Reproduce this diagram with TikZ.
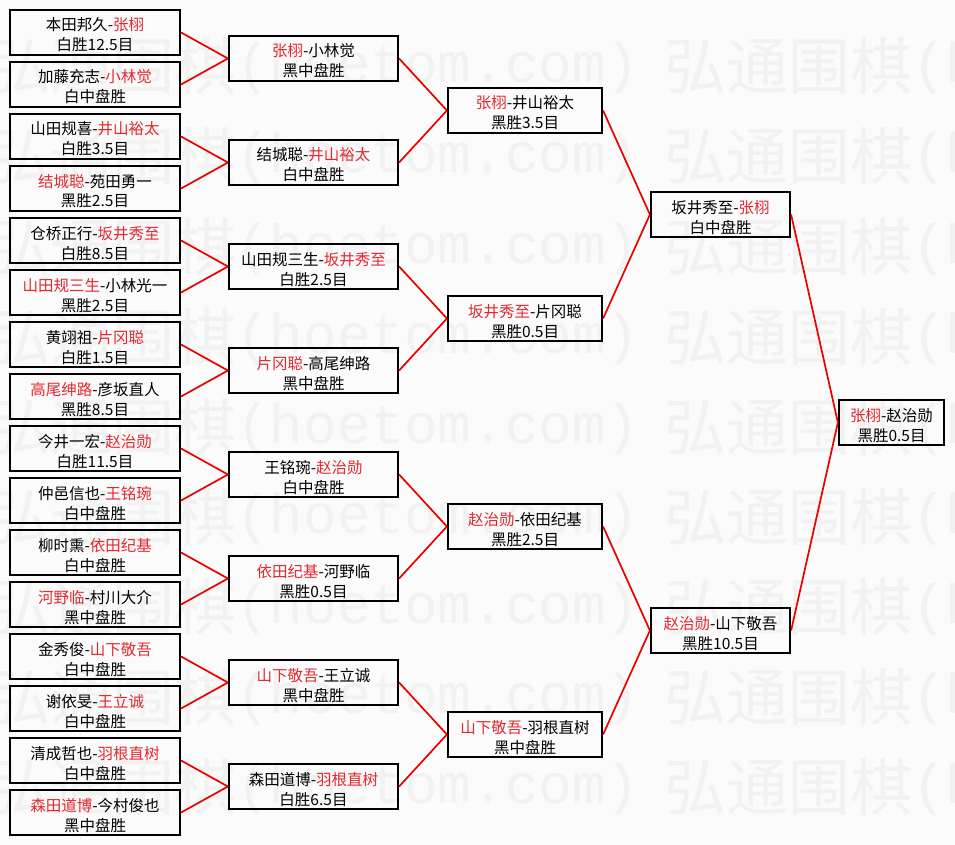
\documentclass[tikz,border=0pt]{standalone}
\usepackage{fontspec}
\setmainfont{Noto Sans CJK SC}
\newfontfamily\wmlatin{Liberation Mono}
\usepackage{xcolor}
\usepackage{tikz}

\definecolor{winred}{RGB}{228,40,48}
\definecolor{linkred}{RGB}{235,0,0}
\definecolor{wmgray}{RGB}{242,242,242}
\definecolor{bggray}{RGB}{251,251,251}
\newcommand{\win}[1]{\textcolor{winred}{#1}}

\begin{document}
\begin{tikzpicture}[
  x=1pt, y=-1pt,
  font=\fontsize{15.5}{20}\selectfont,
  game/.style={draw, line width=2.2pt, minimum height=45pt, inner sep=0pt, align=center,
    text height=37pt, text depth=0pt},
  rda/.style={game, minimum width=170pt},
  rdb/.style={game, minimum width=169pt},
  rdc/.style={game, minimum width=154pt},
  rdd/.style={game, minimum width=139pt},
  rdf/.style={game, minimum width=105pt},
  link/.style={draw=linkred, line width=1.7pt},
  wm/.style={text=wmgray, inner sep=0pt, anchor=base west, font=\fontsize{62}{62}\selectfont},
  wmlat/.style={wm, font=\wmlatin\fontsize{56}{56}\selectfont}
]
  \useasboundingbox (0,0) rectangle (955,845);
  \fill[bggray] (0,0) rectangle (955,845);

  % watermark
  \foreach \r in {0,...,8}{
    \foreach \x in {-12,664}{
      \node[wm] at (\x,90+90*\r) {弘通围棋};
      \node[wmlat] at (\x+248,83+90*\r) {(hoetom.com)};
    }
  }

  % first round
  \node[rda] (a1)  at (95,32.5)  {本田邦久-\win{张栩}\\白胜12.5目};
  \node[rda] (a2)  at (95,84.5)  {加藤充志-\win{小林觉}\\白中盘胜};
  \node[rda] (a3)  at (95,136.5) {山田规喜-\win{井山裕太}\\白胜3.5目};
  \node[rda] (a4)  at (95,188.5) {\win{结城聪}-苑田勇一\\黑胜2.5目};
  \node[rda] (a5)  at (95,240.5) {仓桥正行-\win{坂井秀至}\\白胜8.5目};
  \node[rda] (a6)  at (95,292.5) {\win{山田规三生}-小林光一\\黑胜2.5目};
  \node[rda] (a7)  at (95,344.5) {黄翊祖-\win{片冈聪}\\白胜1.5目};
  \node[rda] (a8)  at (95,396.5) {\win{高尾绅路}-彦坂直人\\黑胜8.5目};
  \node[rda] (a9)  at (95,448.5) {今井一宏-\win{赵治勋}\\白胜11.5目};
  \node[rda] (a10) at (95,500.5) {仲邑信也-\win{王铭琬}\\白中盘胜};
  \node[rda] (a11) at (95,552.5) {柳时熏-\win{依田纪基}\\白中盘胜};
  \node[rda] (a12) at (95,604.5) {\win{河野临}-村川大介\\黑中盘胜};
  \node[rda] (a13) at (95,656.5) {金秀俊-\win{山下敬吾}\\白中盘胜};
  \node[rda] (a14) at (95,708.5) {谢依旻-\win{王立诚}\\白中盘胜};
  \node[rda] (a15) at (95,760.5) {清成哲也-\win{羽根直树}\\白中盘胜};
  \node[rda] (a16) at (95,812.5) {\win{森田道博}-今村俊也\\黑中盘胜};

  % second round
  \node[rdb] (b1) at (313.5,58.5)  {\win{张栩}-小林觉\\黑中盘胜};
  \node[rdb] (b2) at (313.5,162.5) {结城聪-\win{井山裕太}\\白中盘胜};
  \node[rdb] (b3) at (313.5,266.5) {山田规三生-\win{坂井秀至}\\白胜2.5目};
  \node[rdb] (b4) at (313.5,370.5) {\win{片冈聪}-高尾绅路\\黑中盘胜};
  \node[rdb] (b5) at (313.5,474.5) {王铭琬-\win{赵治勋}\\白中盘胜};
  \node[rdb] (b6) at (313.5,578.5) {\win{依田纪基}-河野临\\黑胜0.5目};
  \node[rdb] (b7) at (313.5,682.5) {\win{山下敬吾}-王立诚\\黑中盘胜};
  \node[rdb] (b8) at (313.5,786.5) {森田道博-\win{羽根直树}\\白胜6.5目};

  % third round
  \node[rdc] (c1) at (525,110.5) {\win{张栩}-井山裕太\\黑胜3.5目};
  \node[rdc] (c2) at (525,318.5) {\win{坂井秀至}-片冈聪\\黑胜0.5目};
  \node[rdc] (c3) at (525,526.5) {\win{赵治勋}-依田纪基\\黑胜2.5目};
  \node[rdc] (c4) at (525,734.5) {\win{山下敬吾}-羽根直树\\黑中盘胜};

  % semifinal and final
  \node[rdd] (d1) at (720.5,214.5) {坂井秀至-\win{张栩}\\白中盘胜};
  \node[rdd] (d2) at (720.5,630.5) {\win{赵治勋}-山下敬吾\\黑胜10.5目};
  \node[rdf] (fin) at (891.5,422.5) {\win{张栩}-赵治勋\\黑胜0.5目};

  \draw[link] (a1.east) -- (b1.west);
  \draw[link] (a2.east) -- (b1.west);
  \draw[link] (a3.east) -- (b2.west);
  \draw[link] (a4.east) -- (b2.west);
  \draw[link] (a5.east) -- (b3.west);
  \draw[link] (a6.east) -- (b3.west);
  \draw[link] (a7.east) -- (b4.west);
  \draw[link] (a8.east) -- (b4.west);
  \draw[link] (a9.east) -- (b5.west);
  \draw[link] (a10.east) -- (b5.west);
  \draw[link] (a11.east) -- (b6.west);
  \draw[link] (a12.east) -- (b6.west);
  \draw[link] (a13.east) -- (b7.west);
  \draw[link] (a14.east) -- (b7.west);
  \draw[link] (a15.east) -- (b8.west);
  \draw[link] (a16.east) -- (b8.west);
  \draw[link] (b1.east) -- (c1.west);
  \draw[link] (b2.east) -- (c1.west);
  \draw[link] (b3.east) -- (c2.west);
  \draw[link] (b4.east) -- (c2.west);
  \draw[link] (b5.east) -- (c3.west);
  \draw[link] (b6.east) -- (c3.west);
  \draw[link] (b7.east) -- (c4.west);
  \draw[link] (b8.east) -- (c4.west);
  \draw[link] (c1.east) -- (d1.west);
  \draw[link] (c2.east) -- (d1.west);
  \draw[link] (c3.east) -- (d2.west);
  \draw[link] (c4.east) -- (d2.west);
  \draw[link] (d1.east) -- (fin.west);
  \draw[link] (d2.east) -- (fin.west);
\end{tikzpicture}
\end{document}
